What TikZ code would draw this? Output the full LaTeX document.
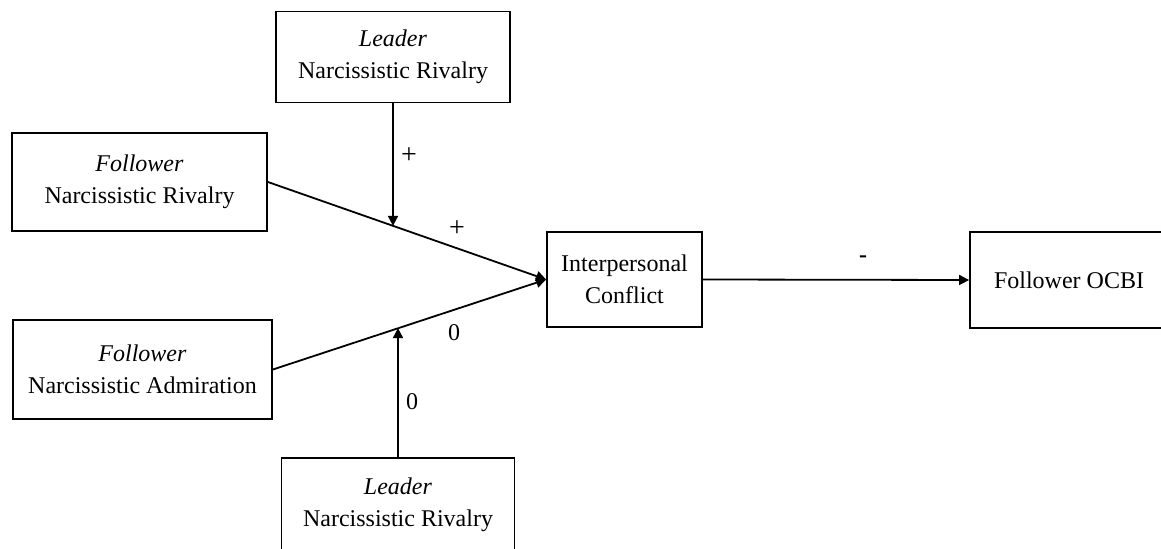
\documentclass[tikz,border=0pt]{standalone}
\usepackage{fontspec}
\setmainfont{Liberation Serif}
\usetikzlibrary{arrows.meta,calc}

\begin{document}
\begin{tikzpicture}[x=0.5pt, y=-0.5pt,
    box/.style={draw, line width=0.9pt, align=center, inner sep=2pt,
      font=\fontsize{12}{16}\selectfont},
    link/.style={line width=0.9pt, -{Triangle[length=5pt,width=5pt]}},
    sign/.style={font=\fontsize{12}{15}\selectfont}]
  \useasboundingbox (0,0) rectangle (1161,549);

  \node[box, minimum width=117pt, minimum height=45.5pt] (lr) at (393, 57)
    {\textit{Leader}\\Narcissistic Rivalry};
  \node[box, minimum width=127.5pt, minimum height=49pt] (fr) at (139.5, 182)
    {\textit{Follower}\\Narcissistic Rivalry};
  \node[box, minimum width=129.5pt, minimum height=49.5pt] (fa) at (142.5, 369.5)
    {\textit{Follower}\\Narcissistic Admiration};
  \node[box, minimum width=116.5pt, minimum height=46.5pt] (lb) at (398, 504.5)
    {\textit{Leader}\\Narcissistic Rivalry};
  \node[box, minimum width=77.5pt, minimum height=47.5pt] (ic) at (624.5, 279.5)
    {Interpersonal\\Conflict};
  \node[box, minimum width=99pt, minimum height=48pt] (ocbi) at (1069, 280)
    {Follower OCBI};

  % paths into the conflict box
  \draw[link] (fr.east) -- (ic.west);
  \draw[link] (fa.east) -- (ic.west);
  \coordinate (m1) at ($(fr.east)!0.45!(ic.west)$);
  \coordinate (m2) at ($(fa.east)!0.46!(ic.west)$);

  % moderators
  \draw[link] (lr.south) -- (lr.south |- m1);
  \draw[link] (lb.north) -- (lb.north |- m2);

  \draw[link] (ic.east) -- (ocbi.west);

  \node[sign, font=\fontsize{14}{15}\selectfont] at (409, 156) {+};
  \node[sign, font=\fontsize{14}{15}\selectfont] at (457, 229) {+};
  \node[sign] at (454, 333) {0};
  \node[sign] at (412, 402) {0};
  \node[sign, font=\fontsize{12}{15}\bfseries] at (863, 259) {-};
\end{tikzpicture}
\end{document}
